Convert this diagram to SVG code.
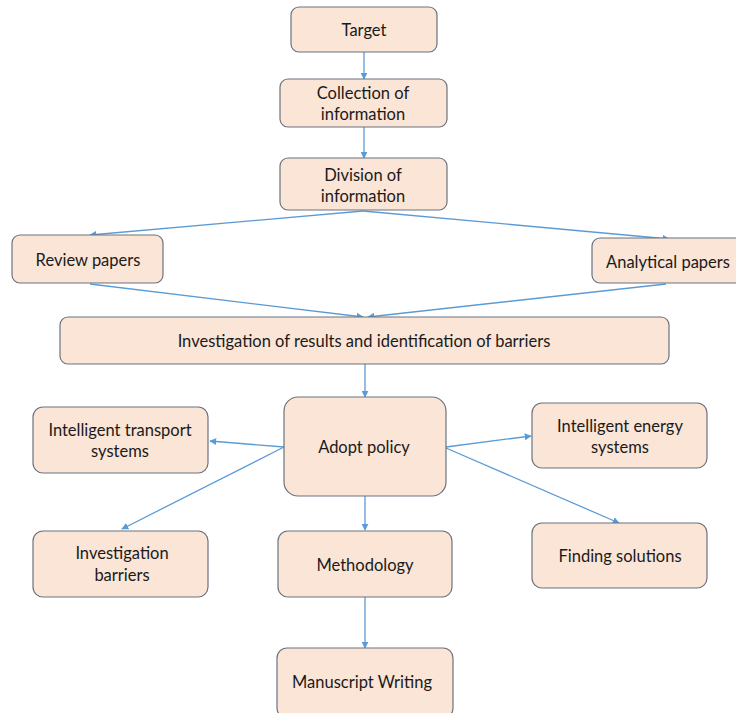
<svg xmlns="http://www.w3.org/2000/svg" width="736" height="713" viewBox="0 0 736 713">
<style>
.box{fill:#FBE5D6;stroke:#6B7380;stroke-width:1.2}
.t{font-family:Lato,"Open Sans",sans-serif;font-size:16.5px;fill:#1a1a1a;text-anchor:middle;dominant-baseline:central}
.c{stroke:#5B9BD5;stroke-width:1.3;fill:none;marker-end:url(#ah)}
</style>
<defs>
<marker id="ah" viewBox="0 0 10 10" refX="9" refY="5" markerWidth="7" markerHeight="7" markerUnits="userSpaceOnUse" orient="auto">
<path d="M0,0 L10,5 L0,10 z" fill="#5B9BD5"/>
</marker>
</defs>
<rect width="736" height="713" fill="#fff"/>
<g id="connectors">
<line class="c" x1="364" y1="52" x2="364" y2="79"/>
<line class="c" x1="364" y1="127" x2="364" y2="158"/>
<line class="c" x1="363" y1="211" x2="90" y2="235"/>
<line class="c" x1="363" y1="211" x2="669" y2="239"/>
<line class="c" x1="90" y1="284" x2="363" y2="317"/>
<line class="c" x1="666" y1="284" x2="368" y2="317"/>
<line class="c" x1="365" y1="364" x2="365" y2="397"/>
<line class="c" x1="284" y1="447" x2="210" y2="441"/>
<line class="c" x1="284" y1="447" x2="122" y2="529"/>
<line class="c" x1="446" y1="447" x2="531" y2="436"/>
<line class="c" x1="446" y1="448" x2="619" y2="523"/>
<line class="c" x1="365" y1="496" x2="365" y2="530"/>
<line class="c" x1="365" y1="597" x2="365" y2="648"/>
</g>
<g id="target"><rect class="box" x="291" y="7" width="146" height="45" rx="8"/><text class="t" x="364" y="30">Target</text></g>
<g id="collection"><rect class="box" x="280" y="79" width="167" height="48" rx="8"/><text class="t" x="363" y="93">Collection of</text><text class="t" x="363" y="114">information</text></g>
<g id="division"><rect class="box" x="280" y="158" width="167" height="52" rx="8"/><text class="t" x="363" y="175">Division of</text><text class="t" x="363" y="196">information</text></g>
<g id="review"><rect class="box" x="12" y="235" width="151" height="48" rx="8"/><text class="t" x="88" y="260">Review papers</text></g>
<g id="analytical"><rect class="box" x="592" y="238" width="152" height="45" rx="8"/><text class="t" x="668" y="262">Analytical papers</text></g>
<g id="investigation"><rect class="box" x="60" y="317" width="609" height="47" rx="8"/><text class="t" x="364" y="341">Investigation of results and identification of barriers</text></g>
<g id="adopt"><rect class="box" x="284" y="397" width="162" height="99" rx="14"/><text class="t" x="364" y="447">Adopt policy</text></g>
<g id="transport"><rect class="box" x="33" y="407" width="175" height="66" rx="10"/><text class="t" x="120" y="430">Intelligent transport</text><text class="t" x="120" y="451">systems</text></g>
<g id="energy"><rect class="box" x="532" y="403" width="175" height="65" rx="10"/><text class="t" x="620" y="426">Intelligent energy</text><text class="t" x="620" y="447">systems</text></g>
<g id="barriers"><rect class="box" x="33" y="531" width="175" height="66" rx="10"/><text class="t" x="122" y="553">Investigation</text><text class="t" x="122" y="575">barriers</text></g>
<g id="methodology"><rect class="box" x="278" y="531" width="174" height="66" rx="10"/><text class="t" x="365" y="565">Methodology</text></g>
<g id="finding"><rect class="box" x="532" y="523" width="175" height="65" rx="10"/><text class="t" x="620" y="556">Finding solutions</text></g>
<g id="manuscript"><rect class="box" x="277" y="648" width="176" height="70" rx="10"/><text class="t" x="362" y="682">Manuscript Writing</text></g>
</svg>
